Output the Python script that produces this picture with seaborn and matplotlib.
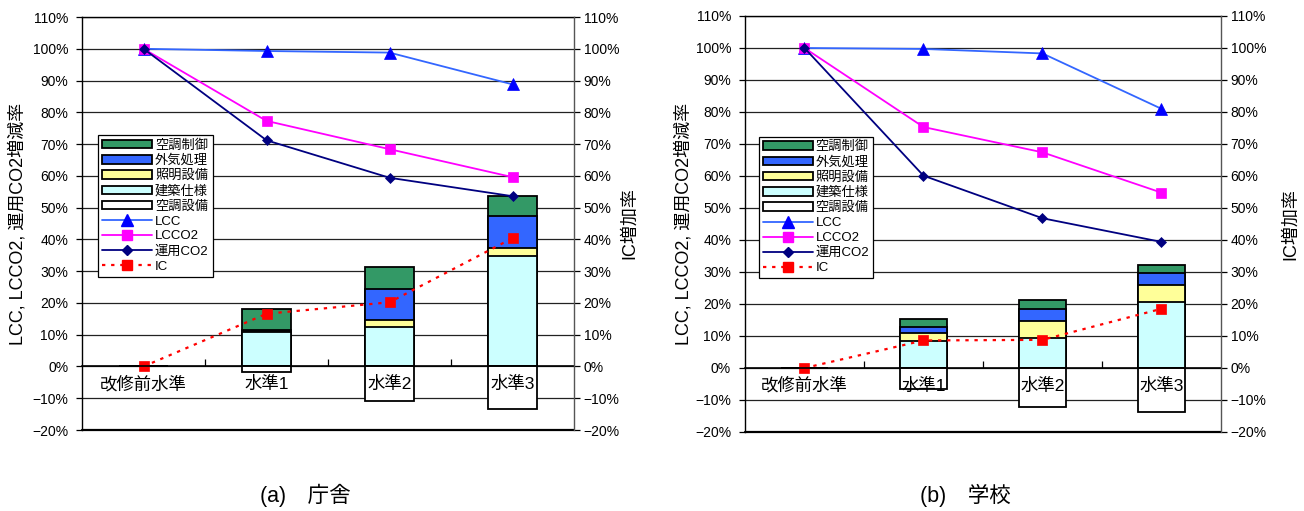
import numpy as np
import matplotlib
matplotlib.use("Agg")
import matplotlib.pyplot as plt
import seaborn as sns
from matplotlib.patches import Patch
from matplotlib.lines import Line2D
from matplotlib.ticker import FuncFormatter, FixedLocator

# ---- data -------------------------------------------------------------
levels = ["改修前水準", "水準1", "水準2", "水準3"]

# (a) 庁舎 : IC breakdown by measure [%]
office_hvac_equip = [0.0, -1.6, -11.0, -13.5]   # 空調設備
office_building = [0.0, 10.8, 12.3, 34.9]       # 建築仕様
office_lighting = [0.0, 0.5, 2.2, 2.4]          # 照明設備
office_outdoor_air = [0.0, 0.3, 10.0, 10.0]     # 外気処理
office_hvac_control = [0.0, 6.6, 6.7, 6.5]      # 空調制御
office_lcc = [100.0, 99.3, 98.8, 88.8]
office_lcco2 = [100.0, 77.3, 68.4, 59.6]
office_co2 = [100.0, 71.2, 59.4, 53.6]
office_ic = [0.0, 16.6, 20.2, 40.4]

# (b) 学校
school_hvac_equip = [0.0, -6.5, -12.3, -13.8]
school_building = [0.0, 8.4, 9.4, 20.6]
school_lighting = [0.0, 2.4, 5.3, 5.2]
school_outdoor_air = [0.0, 1.9, 3.8, 4.0]
school_hvac_control = [0.0, 2.5, 2.6, 2.5]
school_lcc = [100.0, 99.7, 98.3, 81.0]
school_lcco2 = [100.0, 75.3, 67.4, 54.8]
school_co2 = [100.0, 60.1, 46.8, 39.4]
school_ic = [0.0, 8.6, 8.8, 18.5]

stack_names = ["建築仕様", "照明設備", "外気処理", "空調制御"]
stack_colors = ["#CCFFFF", "#FFFF99", "#3366FF", "#339966"]
equip_name = "空調設備"

# ---- style ------------------------------------------------------------
sns.set_theme(style="white")
plt.rcParams["font.family"] = ["Liberation Sans", "Noto Sans CJK JP"]
plt.rcParams.update({
    "text.color": "black", "axes.labelcolor": "black",
    "xtick.color": "black", "ytick.color": "black",
    "axes.edgecolor": "black", "axes.linewidth": 1.0,
})

EDGE_LW = 1.3
BAR_W = 0.4
TICK_FS = 10


def pct(v, _):
    return f"{int(round(v))}%".replace("-", "\u2212")


def draw_panel(ax, equip, building, lighting, outdoor, control,
               lcc, lcco2, co2, ic, legend_anchor, left_label_x,
               right_label_x):
    parts = np.array([building, lighting, outdoor, control])
    cum = np.cumsum(parts, axis=0)
    # stacked bars: draw cumulative heights from the top layer down
    for top, color in reversed(list(zip(cum, stack_colors))):
        sns.barplot(x=levels, y=top, order=levels, color=color, saturation=1,
                    width=BAR_W, edgecolor="black", linewidth=EDGE_LW,
                    errorbar=None, ax=ax)
    sns.barplot(x=levels, y=equip, order=levels, color="white", saturation=1,
                width=BAR_W, edgecolor="black", linewidth=EDGE_LW,
                errorbar=None, ax=ax)

    line_specs = [
        (lcc, "#3366FF", "#0000FF", "^", 8),
        (lcco2, "#FF00FF", "#FF00FF", "s", 7.5),
        (co2, "#000080", "#000080", "D", 5.5),
        (ic, "#FF0000", "#FF0000", "s", 7.5),
    ]
    for vals, lc, mc, mk, ms in line_specs:
        sns.pointplot(x=levels, y=vals, order=levels, color=lc, markers=mk,
                      linestyles="-", errorbar=None, ax=ax, linewidth=1.3,
                      markersize=ms, markerfacecolor=mc, markeredgecolor=mc,
                      markeredgewidth=0.5)
    ax.lines[-1].set_linestyle((0, (1.5, 2.6)))
    ax.lines[-1].set_linewidth(1.6)

    ax.set_xlim(-0.5, len(levels) - 0.5)
    ax.set_ylim(-20, 110)
    ax.yaxis.set_major_locator(FixedLocator(np.arange(-20, 111, 10)))
    ax.yaxis.set_major_formatter(FuncFormatter(pct))
    ax.set_axisbelow(True)
    ax.yaxis.grid(True, color="#222222", linewidth=0.9)
    ax.xaxis.grid(False)
    ax.tick_params(axis="y", which="major", direction="out", length=4,
                   width=0.9, pad=6, labelsize=TICK_FS, left=True)

    # category axis crosses at 0; frame closed at the bottom
    ax.spines["bottom"].set_position(("data", 0))
    ax.spines["bottom"].set_linewidth(1.2)
    ax.spines["right"].set_visible(False)
    ax.spines["top"].set_visible(True)
    ax.axhline(-20, color="black", linewidth=1.6, clip_on=False, zorder=3)
    ax.set_xticks(range(len(levels)))
    ax.set_xticklabels([])
    ax.set_xticks(np.arange(0.5, len(levels) - 1, 1.0), minor=True)
    ax.tick_params(axis="x", which="major", length=0)
    ax.tick_params(axis="x", which="minor", direction="in", length=5,
                   width=0.9, bottom=True)
    for i, name in enumerate(levels):
        ax.text(i, -5.5, name, ha="center", va="center", fontsize=12.5,
                zorder=6)
    ax.set_xlabel("")
    ax.set_ylabel("LCC, LCCO2, 運用CO2増減率", fontsize=13)
    ax.yaxis.set_label_coords(left_label_x, 0.5)

    ax2 = ax.twinx()
    ax2.set_ylim(-20, 110)
    ax2.yaxis.set_major_locator(FixedLocator(np.arange(-20, 111, 10)))
    ax2.yaxis.set_major_formatter(FuncFormatter(pct))
    ax2.tick_params(axis="y", direction="out", length=4, width=0.9, pad=3,
                    labelsize=TICK_FS, right=True)
    for s in ["left", "top", "bottom"]:
        ax2.spines[s].set_visible(False)
    ax2.spines["right"].set_color("#555555")
    ax2.grid(False)
    ax2.set_ylabel("IC増加率", fontsize=13, rotation=90)
    ax2.yaxis.set_label_coords(right_label_x, 0.5)

    handles = [Patch(facecolor=c, edgecolor="black", linewidth=EDGE_LW)
               for c in reversed(stack_colors)]
    handles.append(Patch(facecolor="white", edgecolor="black",
                         linewidth=EDGE_LW))
    handles += [
        Line2D([], [], color="#3366FF", marker="^", markersize=8,
               markerfacecolor="#0000FF", markeredgecolor="#0000FF", lw=1.3),
        Line2D([], [], color="#FF00FF", marker="s", markersize=7.5, lw=1.3),
        Line2D([], [], color="#000080", marker="D", markersize=5.5, lw=1.3),
        Line2D([], [], color="#FF0000", marker="s", markersize=7.5, lw=1.6,
               linestyle=(0, (1.5, 2.6))),
    ]
    labels = list(reversed(stack_names)) + [equip_name, "LCC", "LCCO2",
                                            "運用CO2", "IC"]
    leg = ax.legend(handles, labels, loc="upper left",
                    bbox_to_anchor=legend_anchor, fontsize=9.5,
                    frameon=True, fancybox=False, framealpha=1,
                    edgecolor="black", handlelength=3.8, handleheight=0.6,
                    handletextpad=0.2, labelspacing=0.22, borderpad=0.3,
                    borderaxespad=0)
    leg.get_frame().set_linewidth(0.9)
    leg.set_zorder(7)
    return ax2


fig = plt.figure(figsize=(13.04, 5.11), dpi=100)
ax_a = fig.add_axes([0.0629, 0.1585, 0.3773, 0.8082])
ax_b = fig.add_axes([0.5713, 0.1546, 0.3650, 0.8141])

draw_panel(ax_a, office_hvac_equip, office_building, office_lighting,
           office_outdoor_air, office_hvac_control,
           office_lcc, office_lcco2, office_co2, office_ic, (0.033, 0.714),
           -0.112, 1.095)
draw_panel(ax_b, school_hvac_equip, school_building, school_lighting,
           school_outdoor_air, school_hvac_control,
           school_lcc, school_lcco2, school_co2, school_ic, (0.029, 0.71),
           -0.11, 1.128)

fig.text(305 / 1304, 1 - 495 / 511, "(a)\u3000庁舎", ha="center",
         va="center", fontsize=15.5)
fig.text(965 / 1304, 1 - 495 / 511, "(b)\u3000学校", ha="center",
         va="center", fontsize=15.5)

fig.savefig("out.png", dpi=100)
